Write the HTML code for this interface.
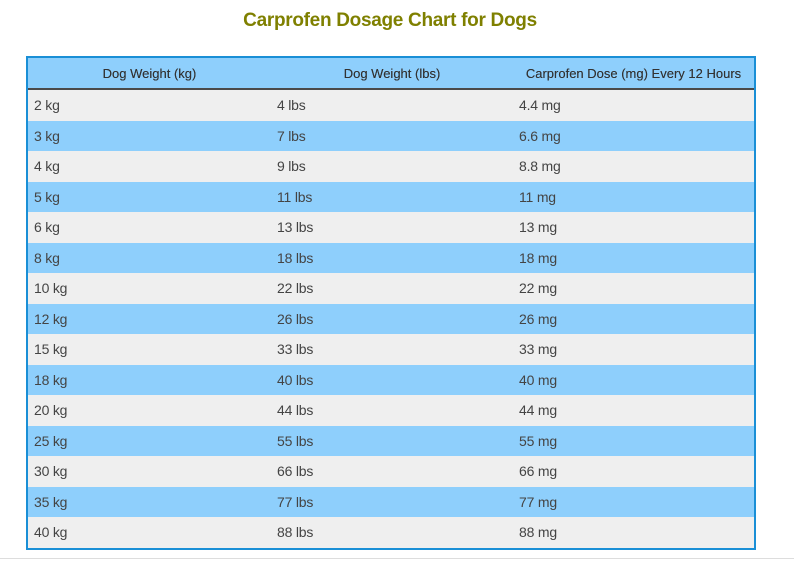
<!DOCTYPE html>
<html><head><style>
body{margin:0;width:794px;height:567px;background:#fff;font-family:"Liberation Sans",sans-serif;position:relative;overflow:hidden}
h1{position:absolute;top:10px;left:0;width:780px;margin:0;text-align:center;font-size:19px;color:#7f8000;font-weight:bold;letter-spacing:-0.3px}
.t{position:absolute;left:26px;top:56px;width:726px;border:2px solid #1a8fd6;border-collapse:collapse}
table{border-collapse:collapse;width:100%;table-layout:fixed}
th{background:#8ecffc;height:30px;font-size:13px;font-weight:normal;color:#333;border-bottom:2px solid #4a4a4a;padding:0;text-shadow:0 0 0.3px #333}
td{height:30.5px;padding:0 0 0 6px;font-size:14px;color:#444;letter-spacing:-0.2px}
tr:nth-child(odd) td{background:#efefef}
tr:nth-child(even) td{background:#8ecffc}
.line{position:absolute;left:0;top:558px;width:794px;height:1px;background:#ddd}
</style></head><body>
<h1>Carprofen Dosage Chart for Dogs</h1>
<div class="t"><table>
<colgroup><col style="width:243px"><col style="width:242px"><col></colgroup>
<thead><tr><th>Dog Weight (kg)</th><th>Dog Weight (lbs)</th><th>Carprofen Dose (mg) Every 12 Hours</th></tr></thead>
<tbody>
<tr><td>2 kg</td><td>4 lbs</td><td>4.4 mg</td></tr>
<tr><td>3 kg</td><td>7 lbs</td><td>6.6 mg</td></tr>
<tr><td>4 kg</td><td>9 lbs</td><td>8.8 mg</td></tr>
<tr><td>5 kg</td><td>11 lbs</td><td>11 mg</td></tr>
<tr><td>6 kg</td><td>13 lbs</td><td>13 mg</td></tr>
<tr><td>8 kg</td><td>18 lbs</td><td>18 mg</td></tr>
<tr><td>10 kg</td><td>22 lbs</td><td>22 mg</td></tr>
<tr><td>12 kg</td><td>26 lbs</td><td>26 mg</td></tr>
<tr><td>15 kg</td><td>33 lbs</td><td>33 mg</td></tr>
<tr><td>18 kg</td><td>40 lbs</td><td>40 mg</td></tr>
<tr><td>20 kg</td><td>44 lbs</td><td>44 mg</td></tr>
<tr><td>25 kg</td><td>55 lbs</td><td>55 mg</td></tr>
<tr><td>30 kg</td><td>66 lbs</td><td>66 mg</td></tr>
<tr><td>35 kg</td><td>77 lbs</td><td>77 mg</td></tr>
<tr><td>40 kg</td><td>88 lbs</td><td>88 mg</td></tr>
</tbody></table></div>
<div class="line"></div>
</body></html>
